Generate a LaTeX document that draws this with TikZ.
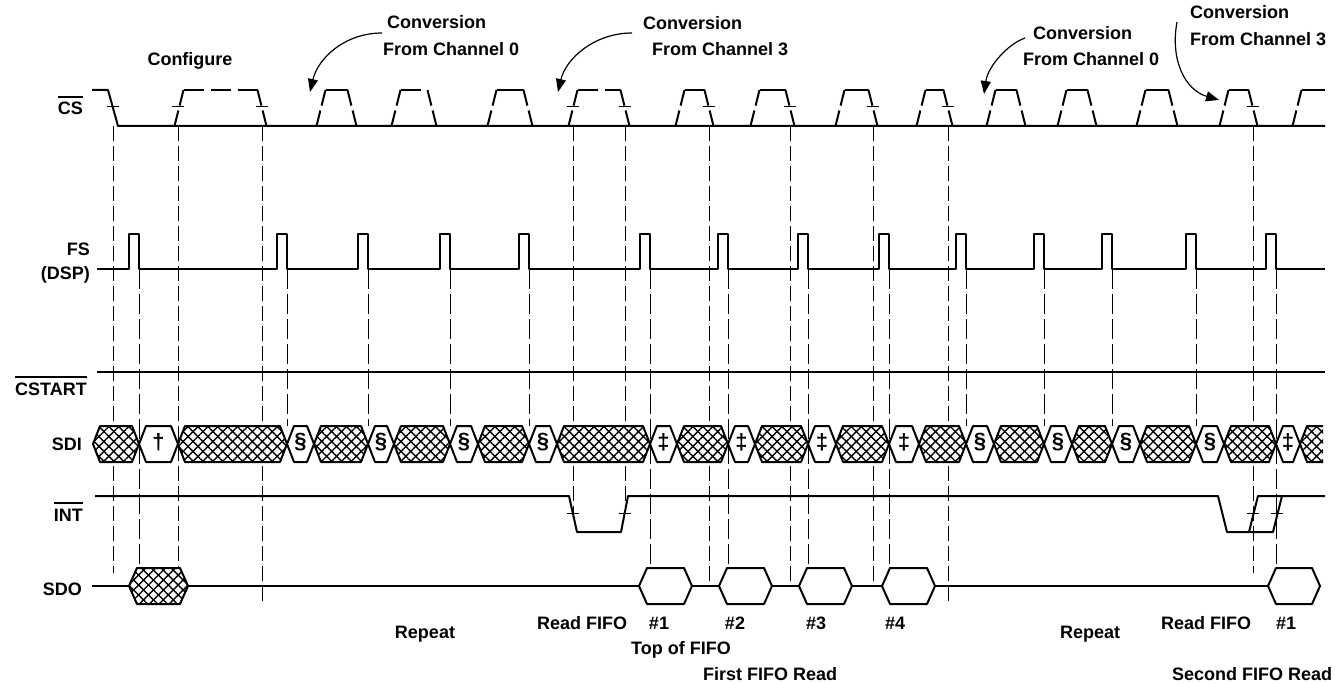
\documentclass[tikz,border=0pt]{standalone}
\usepackage{fontspec}
\setmainfont{Liberation Sans}
\usetikzlibrary{patterns.meta,arrows.meta}
\begin{document}
\begin{tikzpicture}[x=1pt,y=-1pt,
  sig/.style={line width=2pt,line join=round},
  csedge/.style={line width=2pt,dash pattern=on 16pt off 5pt},
  cstop/.style={line width=2pt,dash pattern=on 20pt off 7pt},
  vcs/.style={line width=0.9pt,dash pattern=on 15pt off 5pt},
  vfs/.style={line width=0.9pt,dash pattern=on 20pt off 5pt},
  tickmark/.style={line width=1pt},
  hatch/.style={fill=white,
    postaction={pattern={Lines[angle=45,distance=7pt,line width=1.4pt]}},
    postaction={pattern={Lines[angle=-45,distance=7pt,line width=1.4pt]}}},
  lab/.style={font=\fontsize{18}{20}\selectfont\bfseries,inner sep=0pt},
  sym/.style={font=\fontsize{22}{24}\selectfont\bfseries,inner sep=0pt},
  conv/.style={-{Triangle[length=13pt,width=10pt]},line width=1.2pt},
  ovl/.style={line width=2pt}]
\useasboundingbox (0,0) rectangle (1335,684);

% ---------- vertical reference lines ----------
\foreach \x/\e in {113/573,178/568,262/603,573/513,625/513,709/586,790/586,873/586,948/603,1253/573}
  {\draw[vcs] (\x,126) -- (\x,\e);}
\foreach \x/\e in {139/568,287/426,368/426,450/426,529/426,650/568,728/568,808/568,889/568,966/426,1044/426,1112/426,1196/426,1276/568}
  {\draw[vfs] (\x,269) -- (\x,\e);}

% ---------- CS ----------
\draw[sig] (92,90) -- (108,90) -- (118,126) -- (1325,126);
\foreach \r/\f in {179/262,321/352,396/432,492/528,573/625,680/709,755/790,840/873,921/948,991/1021,1062/1092,1141/1173,1224/1253}
  {\draw[csedge] ({\r-4.5},126) -- ({\r+4.5},90);
   \draw[csedge] ({\f+4.5},126) -- ({\f-4.5},90);}
% short tops solid, long tops dashed
\foreach \r/\f in {321/352,492/528,680/709,755/790,840/873,921/948,991/1021,1062/1092,1141/1173,1224/1253}
  {\draw[sig] ({\r+4.5},90) -- ({\f-4.5},90);}
\foreach \r/\f in {179/262,396/432,573/625}
  {\draw[cstop] ({\r+4.5},90) -- ({\f-4.5},90);}
\draw[csedge] (1292.5,126) -- (1301.5,90);
\draw[sig] (1301.5,90) -- (1325,90);
\foreach \x in {113,178,262,573,625,709,790,873,948,1253}
  {\draw[tickmark] ({\x-6},107) -- ({\x+6},107);}

% ---------- FS ----------
\draw[sig] (97,269)
  \foreach \f in {139,287,368,450,529,650,728,808,889,966,1044,1112,1196,1276}
    { -- ({\f-10},269) -- ({\f-10},234) -- (\f,234) -- (\f,269) }
  -- (1325,269);

% ---------- CSTART ----------
\draw[sig] (97,372) -- (1325,372);

% ---------- SDI ----------
\foreach \a/\b in {93/139,178/287,314/368,394/450,478/529,557/650,677/728,755/808,836/889,919/966,994/1044,1072/1112,1140/1196,1224/1276}
  {\draw[sig,hatch] (\a,444) -- ({\a+7},426) -- ({\b-7},426) -- (\b,444) -- ({\b-7},462) -- ({\a+7},462) -- cycle;}
\foreach \a/\b/\s/\n in {139/178/†/sd0,287/314/§/sd1,368/394/§/sd2,450/478/§/sd3,529/557/§/sd4,650/677/‡/sd5,728/755/‡/sd6,808/836/‡/sd7,889/919/‡/sd8,966/994/§/sd9,1044/1072/§/sd10,1112/1140/§/sd11,1196/1224/§/sd12,1276/1300/‡/sd13}
  {\draw[sig,fill=white] (\a,444) -- ({\a+7},426) -- ({\b-7},426) -- (\b,444) -- ({\b-7},462) -- ({\a+7},462) -- cycle;
   \node[sym] (\n) at ({(\a+\b)/2},442) {\s};}
\path[hatch] (1300,444) -- (1307,426) -- (1323,426) -- (1323,462) -- (1307,462) -- cycle;
\draw[sig] (1323,426) -- (1307,426) -- (1300,444) -- (1307,462) -- (1323,462);

% ---------- INT ----------
\draw[sig] (95,496) -- (569,496) -- (577,532) -- (621,532) -- (628,496) -- (1218,496) -- (1227,532) -- (1273,532) -- (1282,496) -- (1325,496);
\draw[sig] (1249,532) -- (1258,496) -- (1282,496);
\foreach \x in {573,625,1253,1277}
  {\draw[tickmark] ({\x-6},513) -- ({\x+6},513);}

% ---------- SDO ----------
\draw[sig] (92,586) -- (1268,586);
\draw[sig,hatch] (129,586) -- (137,568) -- (180,568) -- (188,586) -- (180,604) -- (137,604) -- cycle;
\foreach \a/\b in {639/692,719/772,799/852,882/935,1268/1320}
  {\draw[sig,fill=white] (\a,586) -- ({\a+8},568) -- ({\b-8},568) -- (\b,586) -- ({\b-8},604) -- ({\a+8},604) -- cycle;}

% ---------- signal names ----------
\node[lab,anchor=base east] (lcs) at (83,115) {CS};
\draw[ovl] ([yshift=5pt]lcs.north west) -- ([yshift=5pt]lcs.north east);
\node[lab,anchor=base east] (lfs) at (90,256) {FS};
\node[lab,anchor=base east] (ldsp) at (90,280) {(DSP)};
\node[lab,anchor=base east] (lcst) at (87,395) {CSTART};
\draw[ovl] ([yshift=5pt]lcst.north west) -- ([yshift=5pt]lcst.north east);
\node[lab,anchor=base east] (lsdi) at (82,450) {SDI};
\node[lab,anchor=base east] (lint) at (83,521) {INT};
\draw[ovl] ([yshift=5pt]lint.north west) -- ([yshift=5pt]lint.north east);
\node[lab,anchor=base east] (lsdo) at (82,595) {SDO};

% ---------- top annotations ----------
\node[lab,anchor=base] (conf) at (190,66) {Configure};
\node[lab,anchor=base west] (c1a) at (387,29) {Conversion};
\node[lab,anchor=base west] (c1b) at (383,56) {From Channel 0};
\node[lab,anchor=base west] (c2a) at (643,30) {Conversion};
\node[lab,anchor=base west] (c2b) at (652,56) {From Channel 3};
\node[lab,anchor=base west] (c3a) at (1033,40) {Conversion};
\node[lab,anchor=base west] (c3b) at (1023,66) {From Channel 0};
\node[lab,anchor=base west] (c4a) at (1190,19) {Conversion};
\node[lab,anchor=base west] (c4b) at (1190,46) {From Channel 3};

\coordinate (a1s) at (382,33); \coordinate (a1e) at (310,92);
\coordinate (a2s) at (632,33); \coordinate (a2e) at (558,92);
\coordinate (a3s) at (1025,38); \coordinate (a3e) at (984,94);
\coordinate (a4s) at (1177,22); \coordinate (a4e) at (1219,100);
\draw[conv] (a1s) .. controls (345,33) and (318,58) .. (a1e);
\draw[conv] (a2s) .. controls (595,33) and (566,58) .. (a2e);
\draw[conv] (a3s) .. controls (1008,44) and (988,66) .. (a3e);
\draw[conv] (a4s) .. controls (1170,60) and (1185,90) .. (a4e);

% ---------- bottom annotations ----------
\node[lab,anchor=base] (rep1) at (425,638) {Repeat};
\node[lab,anchor=base west] (rf1) at (537,629) {Read FIFO};
\node[lab,anchor=base] (n1) at (659,629) {\#1};
\node[lab,anchor=base] (n2) at (735,629) {\#2};
\node[lab,anchor=base] (n3) at (816,629) {\#3};
\node[lab,anchor=base] (n4) at (895,629) {\#4};
\node[lab,anchor=base] (tof) at (681,654) {Top of FIFO};
\node[lab,anchor=base west] (ffr) at (703,680) {First FIFO Read};
\node[lab,anchor=base] (rep2) at (1090,638) {Repeat};
\node[lab,anchor=base west] (rf2) at (1161,629) {Read FIFO};
\node[lab,anchor=base] (n1b) at (1286,629) {\#1};
\node[lab,anchor=base] (sfr) at (1252,680) {Second FIFO Read};
\end{tikzpicture}
\end{document}
